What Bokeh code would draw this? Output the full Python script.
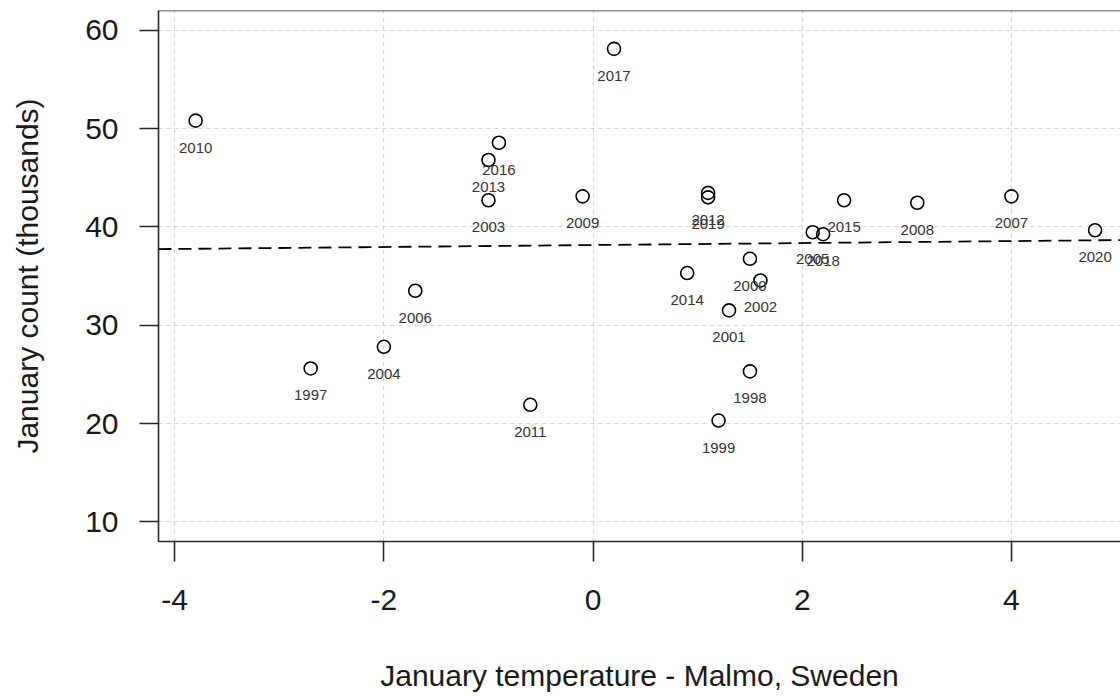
from bokeh.plotting import figure
from bokeh.models import Range1d, FixedTicker, Span, Slope, ColumnDataSource
from bokeh.embed import file_html
from bokeh.resources import INLINE
from bokeh.core.properties import value

years = ["1997", "1998", "1999", "2000", "2001", "2002", "2003", "2004",
         "2005", "2006", "2007", "2008", "2009", "2010", "2011", "2012",
         "2013", "2014", "2015", "2016", "2017", "2018", "2019", "2020"]
jan_temp = [-2.7, 1.5, 1.2, 1.5, 1.3, 1.6, -1.0, -2.0,
            2.1, -1.7, 4.0, 3.1, -0.1, -3.8, -0.6, 1.1,
            -1.0, 0.9, 2.4, -0.9, 0.2, 2.2, 1.1, 4.8]
jan_count = [25.6, 25.3, 20.3, 36.75, 31.5, 34.55, 42.7, 27.8,
             39.45, 33.5, 43.1, 42.45, 43.1, 50.8, 21.9, 43.45,
             46.8, 35.3, 42.7, 48.55, 58.1, 39.25, 43.0, 39.65]

x_ticks = [-4, -2, 0, 2, 4]
x_tick_labels = ["-4", "-2", "0", "2", "4"]
y_ticks = [10, 20, 30, 40, 50, 60]

trend_intercept = 38.15
trend_slope = 0.10

FONT = "Liberation Sans"
DARK = "#262626"

src = ColumnDataSource(dict(x=jan_temp, y=jan_count, year=years))

p = figure(width=1120, height=696,
           x_range=Range1d(-4.155, 5.043), y_range=Range1d(8, 62),
           min_border_left=158, min_border_right=0,
           min_border_top=10, min_border_bottom=155,
           output_backend="svg", toolbar_location=None)
p.outline_line_color = None
p.background_fill_color = "white"
p.border_fill_color = "white"

for ax, ticks in ((p.xaxis[0], x_ticks), (p.yaxis[0], y_ticks)):
    ax.ticker = FixedTicker(ticks=ticks)
    ax.minor_tick_line_color = None
    ax.major_tick_in = 0
    ax.major_tick_out = 20
    ax.major_tick_line_width = 1.6
    ax.major_tick_line_color = DARK
    ax.axis_line_width = 1.6
    ax.axis_line_color = DARK
    ax.major_label_text_font = FONT
    ax.major_label_text_font_size = "30px"
    ax.major_label_text_color = "#1a1a1a"
    ax.axis_label_text_font = FONT
    ax.axis_label_text_font_size = "30px"
    ax.axis_label_text_font_style = "normal"
    ax.axis_label_text_color = "#1a1a1a"

p.xaxis[0].major_label_overrides = {t: s for t, s in zip(x_ticks, x_tick_labels)}
p.yaxis[0].major_tick_out = 19
p.xaxis[0].axis_label = "January temperature - Malmo, Sweden"
p.yaxis[0].axis_label = "January count (thousands)"
p.xaxis[0].major_label_standoff = 28
p.xaxis[0].axis_label_standoff = 46
p.yaxis[0].major_label_standoff = 21
p.yaxis[0].axis_label_standoff = 38

for g in (p.xgrid[0], p.ygrid[0]):
    g.grid_line_color = "#d3d3d3"
    g.grid_line_dash = "4 4"
    g.grid_line_width = 1.2

p.add_layout(Span(location=62, dimension="width", line_color=DARK, line_width=1.6))

p.add_layout(Slope(gradient=trend_slope, y_intercept=trend_intercept,
                   line_color="black", line_width=1.8, line_dash="13 7"))

p.scatter("x", "y", source=src, marker="circle", size=13,
          fill_color=None, line_color="black", line_width=1.6)

p.text("x", "y", text="year", source=src, text_align="center",
       text_baseline="middle", y_offset=27, text_font=value(FONT),
       text_font_size="15px", text_color="#333333")

open("out.html", "w").write(file_html(p, INLINE))
